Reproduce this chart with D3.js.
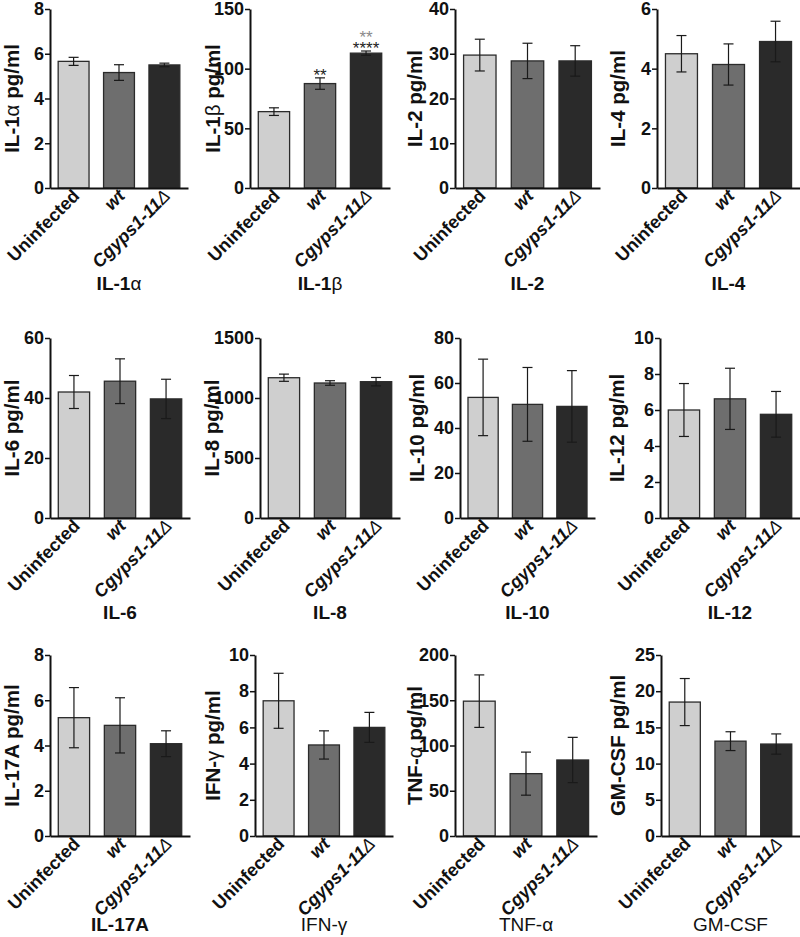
<!DOCTYPE html>
<html><head><meta charset="utf-8">
<script src="https://cdn.jsdelivr.net/npm/d3@7/dist/d3.min.js"></script>
<style>
html,body{margin:0;padding:0;background:#fff;}
text{font-family:Arial,"Liberation Sans",sans-serif;}
</style></head>
<body><svg id="c" width="800" height="937"></svg>
<script>
// ---- data ----
const groups = ["Uninfected", "wt", "Cgyps1-11Δ"];
const cytokines = ["IL-1α","IL-1β","IL-2","IL-4","IL-6","IL-8","IL-10","IL-12","IL-17A","IFN-γ","TNF-α","GM-CSF"];
const yMax     = [8, 150, 40, 6, 60, 1500, 80, 10, 8, 10, 200, 25];
const tickStep = [2, 50, 10, 2, 20, 500, 20, 2, 2, 2, 50, 5];
const uninfectedMean = [5.66, 64, 29.7, 4.5, 42, 1169, 53.6, 6.0, 5.23, 7.47, 149, 18.5];
const wtMean         = [5.16, 87.5, 28.4, 4.14, 45.6, 1125, 50.5, 6.62, 4.89, 5.03, 68.9, 13.1];
const cgypsMean      = [5.5, 113, 28.4, 4.91, 39.7, 1136, 49.6, 5.76, 4.08, 6.0, 84, 12.7];
const uninfectedErr  = [0.18, 3.2, 3.55, 0.61, 5.5, 30, 17, 1.47, 1.33, 1.52, 29, 3.25];
const wtErr          = [0.35, 4.8, 3.95, 0.69, 7.45, 19, 16.4, 1.7, 1.22, 0.78, 23.8, 1.3];
const cgypsErr       = [0.08, 1.8, 3.4, 0.68, 6.55, 35, 15.9, 1.27, 0.57, 0.83, 25, 1.4];
// significance marks
const sigMarks = [
  {panel: 1, group: 1, text: "**", tone: "dark", level: 0},
  {panel: 1, group: 2, text: "****", tone: "dark", level: 0},
  {panel: 1, group: 2, text: "**", tone: "grey", level: 1}
];

// ---- layout (not data) ----
const rows = [{top: 9, bottom: 188, title: 290}, {top: 338, bottom: 518, title: 619}, {top: 655, bottom: 836, title: 931}];
const axisX = [50, 250, 455, 657, 50, 260, 460, 660, 50, 255, 455, 661];
const axisW = [138, 140, 145, 143, 140, 140, 135, 140, 140, 138, 142, 139];
const ylabOff = [39, 38, 41, 40, 39, 49, 44, 44, 39, 43, 41, 44];
const barFill = ["#cfcfcf", "#6e6e6e", "#2a2a2a"];
const boldTitle = [true,true,true,true,true,true,true,true,true,false,false,false];

const svg = d3.select("#c");
svg.append("rect").attr("width",800).attr("height",937).attr("fill","#fff");

function greekSplit(s){
  const parts = [];
  let cur = "", curG = null;
  for (const ch of s){
    const g = /[α-ωΑ-ΩΔ]/.test(ch);
    if (curG === null) curG = g;
    if (g !== curG){ parts.push({t: cur, g: curG}); cur = ""; curG = g; }
    cur += ch;
  }
  if (cur) parts.push({t: cur, g: curG});
  return parts;
}
function richText(sel, s){
  greekSplit(s).forEach(p => {
    const t = sel.append("tspan").text(p.t);
    if (p.g) t.attr("font-weight","normal");
  });
}

const means = [uninfectedMean, wtMean, cgypsMean];
const errs = [uninfectedErr, wtErr, cgypsErr];

cytokines.forEach((name, i) => {
  const r = rows[Math.floor(i/4)];
  const x0 = axisX[i], w = axisW[i];
  const g = svg.append("g");
  const x = d3.scaleBand().domain(groups).range([x0, x0 + w]).paddingInner(0.32).paddingOuter(0.18);
  const y = d3.scaleLinear().domain([0, yMax[i]]).range([r.bottom, r.top]);

  groups.forEach((grp, k) => {
    const v = means[k][i], e = errs[k][i];
    g.append("rect")
      .attr("x", x(grp)).attr("width", x.bandwidth())
      .attr("y", y(v)).attr("height", y(0) - y(v))
      .attr("fill", barFill[k]).attr("stroke", "#2b2b2b").attr("stroke-width", 1.3);
    const cx = x(grp) + x.bandwidth()/2;
    const cw = 5;
    const eb = g.append("g").attr("stroke", "#1a1a1a").attr("stroke-width", 1.2);
    eb.append("line").attr("x1", cx).attr("x2", cx).attr("y1", y(v+e)).attr("y2", y(v-e));
    eb.append("line").attr("x1", cx-cw).attr("x2", cx+cw).attr("y1", y(v+e)).attr("y2", y(v+e));
    eb.append("line").attr("x1", cx-cw).attr("x2", cx+cw).attr("y1", y(v-e)).attr("y2", y(v-e));
  });

  const yAxis = d3.axisLeft(y).tickValues(d3.range(0, yMax[i] + tickStep[i]/2, tickStep[i]))
    .tickSize(5).tickSizeOuter(0).tickPadding(1).tickFormat(d3.format("d"));
  const ya = g.append("g").attr("transform", `translate(${x0},0)`).call(yAxis);
  ya.select(".domain").attr("stroke","#111").attr("stroke-width",2);
  ya.selectAll(".tick line").attr("stroke","#111").attr("stroke-width",1.5);
  ya.selectAll(".tick text").attr("font-size",18).attr("font-weight","bold").attr("fill","#111")
    .attr("font-family","Arial, 'Liberation Sans', sans-serif");

  const xAxis = d3.axisBottom(x).tickSize(0).tickSizeOuter(0).tickFormat("");
  const xa = g.append("g").attr("transform", `translate(0,${r.bottom})`).call(xAxis);
  xa.select(".domain").attr("stroke","#111").attr("stroke-width",2);

  groups.forEach((grp, k) => {
    const cx = x(grp) + x.bandwidth()/2;
    const t = g.append("text")
      .attr("transform", `translate(${cx + 7},${r.bottom + 9}) rotate(-45)`)
      .attr("text-anchor","end").attr("font-size",18).attr("font-weight","bold").attr("fill","#111");
    if (k > 0) t.attr("font-style","italic");
    richText(t, grp);
  });

  const yl = g.append("text")
    .attr("transform", `translate(${x0 - ylabOff[i]},${(r.top + r.bottom)/2}) rotate(-90)`)
    .attr("text-anchor","middle").attr("dominant-baseline","central")
    .attr("font-size",20.5).attr("font-weight","bold").attr("fill","#111");
  richText(yl, name + " pg/ml");

  const tt = g.append("text").attr("x", x0 + w/2).attr("y", r.title)
    .attr("text-anchor","middle").attr("font-size",19)
    .attr("font-weight", boldTitle[i] ? "bold" : "normal").attr("fill","#111");
  richText(tt, name);

  sigMarks.filter(m => m.panel === i).forEach(m => {
    const grp = groups[m.group];
    const cx = x(grp) + x.bandwidth()/2;
    const top = y(means[m.group][i] + errs[m.group][i]);
    g.append("text").attr("x", cx).attr("y", top + 3 - m.level * 11)
      .attr("text-anchor","middle").attr("font-size",17)
      .attr("fill", m.tone === "grey" ? "#8a8a8a" : "#222")
      .text(m.text);
  });
});
</script></body></html>
